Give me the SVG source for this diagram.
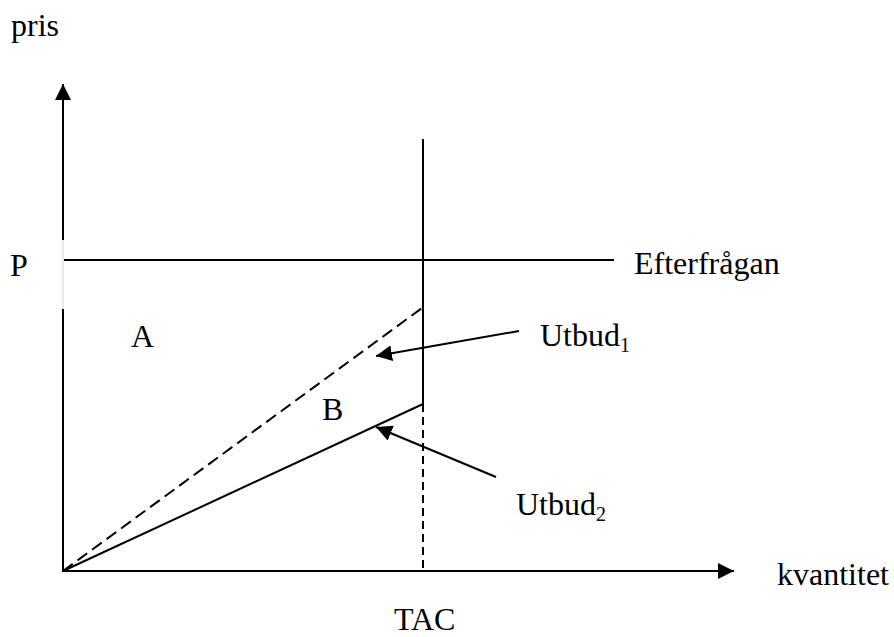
<svg xmlns="http://www.w3.org/2000/svg" width="894" height="637" viewBox="0 0 894 637">
<style>
  text { font-family: "Liberation Serif", "Times New Roman", serif; font-size: 32px; fill: #000; }
  .sub { font-size: 20px; }
  .ln { stroke: #000; stroke-width: 2; fill: none; }
  .dash { stroke-dasharray: 12 6; }
  .dash2 { stroke-dasharray: 8 5; }
</style>
<defs>
  <marker id="ah" markerUnits="userSpaceOnUse" markerWidth="16" markerHeight="16" viewBox="0 0 16 16" refX="16" refY="8" orient="auto">
    <path d="M0,0 L16,8 L0,16 Z" fill="#000"/>
  </marker>
</defs>
<g id="axes">
  <line class="ln" x1="63" y1="571" x2="63" y2="309"/>
  <line x1="63" y1="309" x2="63" y2="240" stroke="#e4e4e4" stroke-width="1.5"/>
  <line class="ln" x1="63" y1="240" x2="63" y2="84" marker-end="url(#ah)"/>
  <line class="ln" x1="62" y1="571" x2="734" y2="571" marker-end="url(#ah)"/>
</g>
<g id="connectors">
  <line id="demand" class="ln" x1="64" y1="260" x2="614" y2="260"/>
  <line id="tac" class="ln" x1="423" y1="139" x2="423" y2="404"/>
  <line id="tac-dash" class="ln dash2" x1="423" y1="404" x2="423" y2="571"/>
  <line id="utbud1-line" class="ln dash" x1="63" y1="571" x2="422" y2="308"/>
  <line id="utbud2-line" class="ln" x1="63" y1="571" x2="423" y2="404"/>
  <line id="arrow1" class="ln" x1="519" y1="331" x2="376" y2="356" marker-end="url(#ah)"/>
  <line id="arrow2" class="ln" x1="496" y1="477" x2="376" y2="427" marker-end="url(#ah)"/>
</g>
<g id="label-pris"><text x="11" y="36">pris</text></g>
<g id="label-P"><text x="10" y="276">P</text></g>
<g id="label-efterfragan"><text x="634" y="274">Efterfrågan</text></g>
<g id="label-A"><text x="131" y="347">A</text></g>
<g id="label-B"><text x="322" y="420">B</text></g>
<g id="label-utbud1"><text x="540" y="346">Utbud<tspan class="sub" dy="6">1</tspan></text></g>
<g id="label-utbud2"><text x="516" y="515">Utbud<tspan class="sub" dy="6">2</tspan></text></g>
<g id="label-kvantitet"><text x="777" y="585">kvantitet</text></g>
<g id="label-tac"><text x="394" y="630">TAC</text></g>
</svg>
